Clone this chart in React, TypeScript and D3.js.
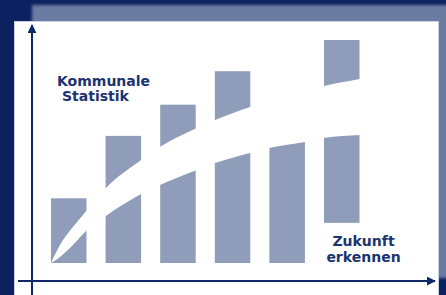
import React from 'react';
import { scaleBand, scaleLinear, area, curveMonotoneX } from 'd3';

const width = 446;
const height = 295;

// bars (value units, 0..100)
const stages = ['s1', 's2', 's3', 's4', 's5', 's6'];
const barTops = [29, 57, 71, 86, 66, 100];
const barBases = [0, 0, 0, 0, 0, 18];

// white swoosh cutting through the bars, t = 0..1 across the bar area
const swooshT = [0, 0.029, 0.071, 0.117, 0.178, 0.292, 0.353, 0.473, 0.532, 0.645, 0.707, 0.823, 0.885, 1.0, 1.05];
const swooshUpper = [0, 8.1, 16.1, 23.8, 33.6, 46.2, 52.0, 60.5, 64.1, 70.0, 72.6, 77.0, 79.4, 82.5, 84.0];
const swooshLower = [0, 2.7, 8.1, 14.8, 21.1, 30.9, 35.0, 41.7, 44.8, 49.3, 51.6, 54.3, 56.1, 57.4, 58.0];

const labelTop = ['Kommunale', 'Statistik'];
const labelBottom = ['Zukunft', 'erkennen'];

const navy = '#0c2260';
const shadow = '#6b7ca2';
const barColor = '#8f9dba';
const ink = '#1b3370';
const axisColor = '#0f2868';

function App() {
  const xScale = scaleBand<string>()
    .domain(stages)
    .range([51, 359.5])
    .paddingInner(0.35)
    .paddingOuter(0);

  const yScale = scaleLinear().domain([0, 100]).range([263, 40]);
  const tScale = scaleLinear().domain([0, 1]).range([51, 359.5]);

  const swooshPts = swooshT.map((t, i) => ({ t, hi: swooshUpper[i], lo: swooshLower[i] }));
  const swoosh = area<{ t: number; hi: number; lo: number }>()
    .x(d => tScale(d.t))
    .y0(d => yScale(d.lo))
    .y1(d => yScale(d.hi))
    .curve(curveMonotoneX);

  return (
    <svg width={width} height={height} style={{ position: 'absolute', left: 0, top: 0 }}>
      <defs>
        <filter id="soft" x="-5%" y="-5%" width="110%" height="110%">
          <feGaussianBlur stdDeviation={1.5} />
        </filter>
        <marker id="arrow" viewBox="0 0 10 10" refX={9} refY={5} markerWidth={4.5} markerHeight={4.5} orient="auto">
          <path d="M0,0 L10,5 L0,10 z" fill={axisColor} />
        </marker>
      </defs>

      <rect x={0} y={0} width={width} height={height} fill={navy} />
      <rect x={32} y={5} width={430} height={273} fill={shadow} filter="url(#soft)" />
      <rect x={14.5} y={21.5} width={424} height={290} fill="#fff" stroke="#c9d1e2" strokeWidth={1} />

      {stages.map((s, i) => (
        <rect
          key={s}
          x={xScale(s)}
          y={yScale(barTops[i])}
          width={xScale.bandwidth()}
          height={yScale(barBases[i]) - yScale(barTops[i])}
          fill={barColor}
        />
      ))}

      <path d={swoosh(swooshPts) || ''} fill="#fff" />

      <line x1={32} y1={295} x2={32} y2={25} stroke={axisColor} strokeWidth={2} markerEnd="url(#arrow)" />
      <line x1={18} y1={281} x2={435} y2={281} stroke={axisColor} strokeWidth={2} markerEnd="url(#arrow)" />

      <g fontFamily="'DejaVu Sans', Verdana, sans-serif" fontWeight="bold" fontSize={14} fill={ink}>
        <text x={57} y={86}>{labelTop[0]}</text>
        <text x={62} y={101}>{labelTop[1]}</text>
        <text x={363.5} y={246} textAnchor="middle">{labelBottom[0]}</text>
        <text x={363.5} y={262} textAnchor="middle">{labelBottom[1]}</text>
      </g>
    </svg>
  );
}

export default App;
